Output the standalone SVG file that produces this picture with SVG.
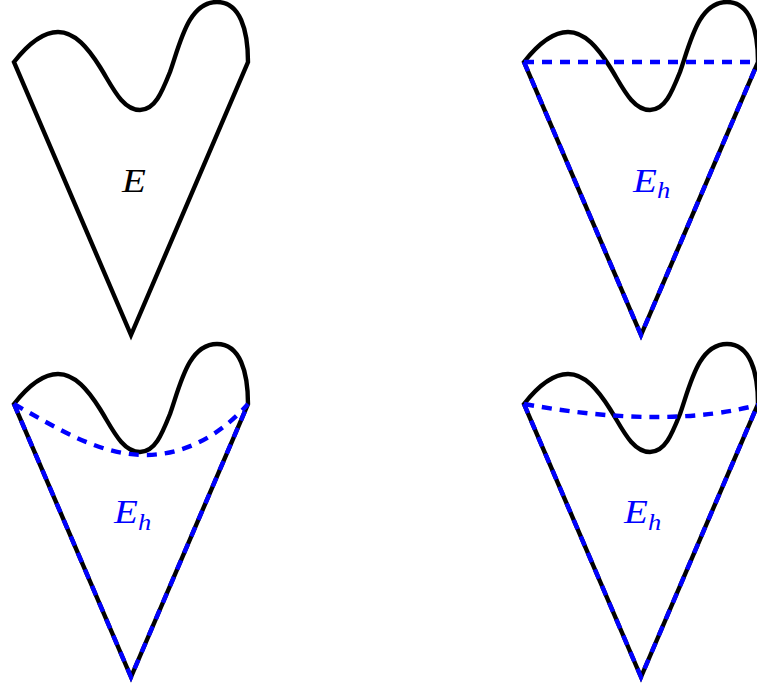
<svg xmlns="http://www.w3.org/2000/svg" xmlns:xlink="http://www.w3.org/1999/xlink" width="757" height="684" viewBox="0 0 757 684">
<style>
.outline{fill:none;stroke:#000;stroke-width:4.4;stroke-linejoin:miter;stroke-linecap:round}
.dash{fill:none;stroke:#0000ff;stroke-width:4.4;stroke-dasharray:10 8}
.lbl{font-family:"Liberation Serif","DejaVu Serif",serif;font-style:italic;font-size:34px}
.sub{font-size:23px}
.blue{fill:#0000ff}
</style>
<defs>
<path id="heart" d="M14,62 C25,48 40,32 58,32 C75,32 88,48 100,67 C112,86 122,110 140,110 C155,110 162,92 170,72 C180,44 188,2 217,2 C240,2 248,30 248,62 L131,335 Z"/>
<path id="sides" d="M14,62 L131,335 L248,62"/>
</defs>
<g id="shape-E">
<use xlink:href="#heart" class="outline"/>
<text class="lbl" transform="translate(122,192) scale(1.15,1)">E</text>
</g>
<g id="shape-Eh-straight" transform="translate(510,0)">
<use xlink:href="#heart" class="outline"/>
<use xlink:href="#sides" class="dash"/>
<path class="dash" d="M14,62 L248,62"/>
<text class="lbl blue" transform="translate(123,192) scale(1.15,1)">E<tspan class="sub" dy="6">h</tspan></text>
</g>
<g id="shape-Eh-curved" transform="translate(0,342)">
<use xlink:href="#heart" class="outline"/>
<use xlink:href="#sides" class="dash"/>
<path class="dash" d="M14,62 C60,88 100,113 145,113 C190,113 225,88 248,62"/>
<text class="lbl blue" transform="translate(114,181) scale(1.15,1)">E<tspan class="sub" dy="7">h</tspan></text>
</g>
<g id="shape-Eh-flat" transform="translate(510,342)">
<use xlink:href="#heart" class="outline"/>
<use xlink:href="#sides" class="dash"/>
<path class="dash" d="M14,62 C70,72 110,75 145,75 C190,75 220,70 248,63"/>
<text class="lbl blue" transform="translate(114,181) scale(1.15,1)">E<tspan class="sub" dy="7">h</tspan></text>
</g>
</svg>
